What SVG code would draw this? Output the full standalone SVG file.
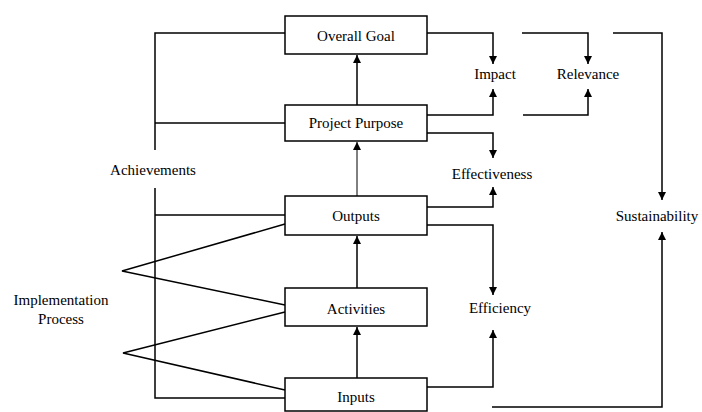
<svg xmlns="http://www.w3.org/2000/svg" width="702" height="412" viewBox="0 0 702 412">
<defs>
<marker id="ah" viewBox="0 0 8 10" refX="8" refY="5" markerWidth="8" markerHeight="10" markerUnits="userSpaceOnUse" orient="auto">
<path d="M0,1 L8,5 L0,9 Z" fill="#000"/>
</marker>
</defs>
<style>
.box{fill:#fff;stroke:#000;stroke-width:1.5}
.ln{fill:none;stroke:#000;stroke-width:1.5}
.thin{fill:none;stroke:#000;stroke-width:1}
.t{font-family:"Liberation Serif","Times New Roman",serif;font-size:15px;fill:#000;text-anchor:middle}
</style>
<rect width="702" height="412" fill="#fff"/>
<g id="connectors">
<!-- left achievements bracket -->
<path class="ln" d="M285,33 H155 V150"/>
<path class="ln" d="M155,188 V398 H285"/>
<path class="ln" d="M155,123 H285"/>
<path class="ln" d="M155,215 H285"/>
<!-- implementation triangles -->
<path class="ln" d="M285,224 L122,271 L285,305"/>
<path class="ln" d="M285,312 L123,353 L285,390"/>
<!-- central upward arrows -->
<path class="ln" d="M357,105 V55" marker-end="url(#ah)"/>
<path class="thin" d="M357,196 V142" marker-end="url(#ah)"/>
<path class="ln" d="M357,288 V236" marker-end="url(#ah)"/>
<path class="ln" d="M357,378 V327" marker-end="url(#ah)"/>
<!-- right side -->
<path class="ln" d="M427,33 H493 V64" marker-end="url(#ah)"/>
<path class="ln" d="M522,33 H588 V64" marker-end="url(#ah)"/>
<path class="ln" d="M613,33 H662 V200" marker-end="url(#ah)"/>
<path class="ln" d="M427,115 H493 V89" marker-end="url(#ah)"/>
<path class="ln" d="M523,115 H588 V89" marker-end="url(#ah)"/>
<path class="ln" d="M427,133 H493 V158" marker-end="url(#ah)"/>
<path class="ln" d="M427,207 H493 V187" marker-end="url(#ah)"/>
<path class="ln" d="M427,225 H493 V295" marker-end="url(#ah)"/>
<path class="ln" d="M427,387 H493 V330" marker-end="url(#ah)"/>
<path class="ln" d="M492,407 H662 V232" marker-end="url(#ah)"/>
</g>
<g id="overall-goal"><rect class="box" x="285" y="16" width="142" height="38"/><text class="t" x="356" y="41">Overall Goal</text></g>
<g id="project-purpose"><rect class="box" x="285" y="105" width="142" height="36"/><text class="t" x="356" y="128">Project Purpose</text></g>
<g id="outputs"><rect class="box" x="285" y="196" width="142" height="39"/><text class="t" x="356" y="221">Outputs</text></g>
<g id="activities"><rect class="box" x="285" y="288" width="142" height="38"/><text class="t" x="356" y="314">Activities</text></g>
<g id="inputs"><rect class="box" x="285" y="378" width="142" height="33"/><text class="t" x="356" y="402">Inputs</text></g>
<g id="impact"><text class="t" x="495" y="79">Impact</text></g>
<g id="relevance"><text class="t" x="588" y="79">Relevance</text></g>
<g id="effectiveness"><text class="t" x="492" y="179">Effectiveness</text></g>
<g id="efficiency"><text class="t" x="500" y="313">Efficiency</text></g>
<g id="sustainability"><text class="t" x="657" y="221">Sustainability</text></g>
<g id="achievements"><text class="t" x="153" y="175">Achievements</text></g>
<g id="implementation-process"><text class="t" x="61" y="305">Implementation</text><text class="t" x="61" y="324">Process</text></g>
</svg>
